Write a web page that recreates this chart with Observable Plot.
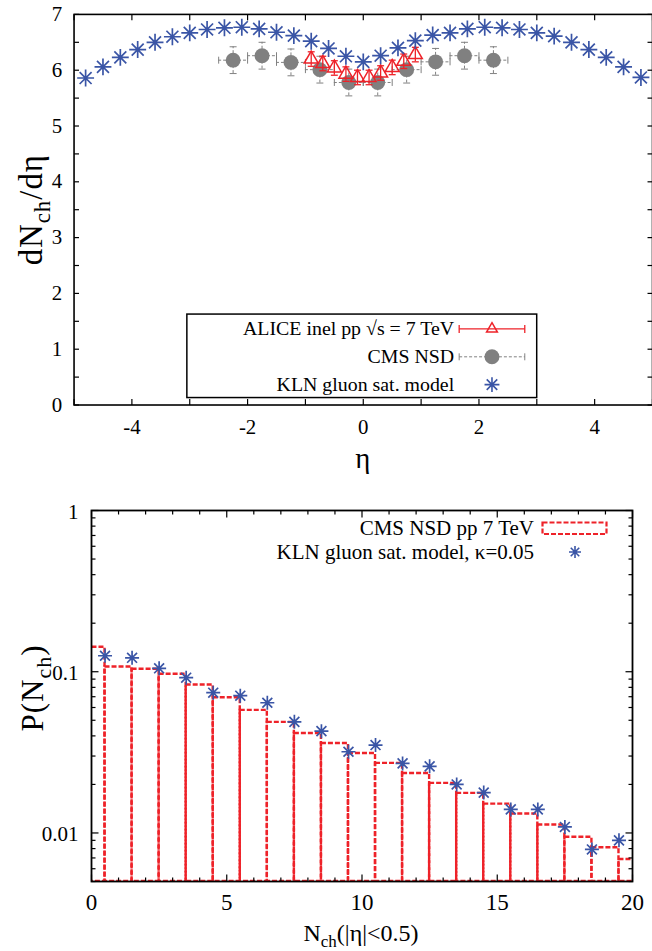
<!DOCTYPE html>
<html>
<head>
<meta charset="utf-8">
<script src="https://cdn.jsdelivr.net/npm/d3@7"></script>
<script src="https://cdn.jsdelivr.net/npm/@observablehq/plot@0.6"></script>
<style>
  html, body { margin: 0; padding: 0; background: #fff; }
  #wrap { position: relative; width: 652px; height: 951px; overflow: hidden; background: #fff;
          font-family: 'Liberation Serif', 'Times New Roman', serif; }
  #wrap svg { position: absolute; left: 0; font-family: 'Liberation Serif', 'Times New Roman', serif !important; }
  #wrap svg text, #wrap svg tspan { font-family: 'Liberation Serif', 'Times New Roman', serif !important; }
</style>
</head>
<body>
<div id="wrap"></div>
<script>
// ---------------- DATA ----------------
// Top panel: dNch/deta vs eta
const etaKLN = [-4.8,-4.5,-4.2,-3.9,-3.6,-3.3,-3.0,-2.7,-2.4,-2.1,-1.8,-1.5,-1.2,-0.9,-0.6,-0.3,0,
                0.3,0.6,0.9,1.2,1.5,1.8,2.1,2.4,2.7,3.0,3.3,3.6,3.9,4.2,4.5,4.8];
const dndetaKLN = [5.86,6.06,6.23,6.37,6.50,6.60,6.67,6.73,6.76,6.77,6.74,6.68,6.62,6.52,6.39,6.25,6.15,
                   6.26,6.40,6.53,6.63,6.67,6.74,6.77,6.76,6.73,6.67,6.61,6.50,6.37,6.23,6.06,5.87];

const etaCMS = [-2.25,-1.75,-1.25,-0.75,-0.25,0.25,0.75,1.25,1.75,2.25];
const dndetaCMS = [6.18,6.26,6.14,6.01,5.78,5.78,6.01,6.15,6.26,6.18];
const etaErrCMS = [0.25,0.25,0.25,0.25,0.25,0.25,0.25,0.25,0.25,0.25];
const errCMS = [0.24,0.24,0.24,0.24,0.24,0.24,0.24,0.24,0.24,0.24];

const etaALICE = [-0.9,-0.7,-0.5,-0.3,-0.1,0.1,0.3,0.5,0.7,0.9];
const dndetaALICE = [6.20,6.12,6.04,5.93,5.87,5.87,5.95,6.05,6.16,6.28];
const errALICE = [0.13,0.13,0.13,0.13,0.13,0.13,0.13,0.13,0.13,0.13];

const etaTickLabels = [-4,-2,0,2,4];
const etaTicks = [-5,-4,-3,-2,-1,0,1,2,3,4,5];
const dnTickLabels = [0,1,2,3,4,5,6,7];
const dnTicks = [0,0.5,1,1.5,2,2.5,3,3.5,4,4.5,5,5.5,6,6.5,7];
const legendTop = ["ALICE inel pp \u221As = 7 TeV", "CMS NSD", "KLN gluon sat. model"];

// Bottom panel: P(Nch)
const nchCMS = [0,1,2,3,4,5,6,7,8,9,10,11,12,13,14,15,16,17,18,19,20];
const pCMS = [0.142,0.107,0.1035,0.0964,0.0827,0.069,0.0576,0.0485,0.0414,0.0359,0.0311,
              0.0270,0.0234,0.0203,0.0176,0.0151,0.0131,0.0112,0.0094,0.0081,0.00684];
const nchKLN = [0.5,1.5,2.5,3.5,4.5,5.5,6.5,7.5,8.5,9.5,10.5,11.5,12.5,13.5,14.5,15.5,16.5,17.5,18.5,19.5];
const pKLN = [0.1256,0.122,0.105,0.0918,0.0741,0.071,0.0642,0.0489,0.0428,0.0319,0.0351,
              0.0270,0.0259,0.0200,0.0178,0.0140,0.0140,0.0109,0.0079,0.0090];

const nchTickLabels = [0,5,10,15,20];
const nchTicks = [0,1,2,3,4,5,6,7,8,9,10,11,12,13,14,15,16,17,18,19,20];
const pTickLabels = [1,0.1,0.01];
const pTickLabelText = ["1","0.1","0.01"];
const pMinorTicks = [0.005,0.006,0.007,0.008,0.009,0.02,0.03,0.04,0.05,0.06,0.07,0.08,0.09,
                     0.2,0.3,0.4,0.5,0.6,0.7,0.8,0.9];
const legendBottom = ["CMS NSD pp 7 TeV", "KLN gluon sat. model, \u03BA=0.05"];

// ---------------- STYLE ----------------
const serif = "Liberation Serif";
const red = "#ee2229", blue = "#3a55a6", gray = "#808080";

function seg(x1, y1, x2, y2) {
  return { draw(ctx, size) { const r = Math.sqrt(size / Math.PI);
    ctx.moveTo(x1 * r, y1 * r); ctx.lineTo(x2 * r, y2 * r); } };
}
const tickUp = seg(0,0,0,-1), tickDown = seg(0,0,0,1), tickRight = seg(0,0,1,0), tickLeft = seg(0,0,-1,0);
const hcap = seg(-1,0,1,0), vcap = seg(0,-1,0,1);
const asterisk = { draw(ctx, size) { const r = Math.sqrt(size / Math.PI), d = r * Math.SQRT1_2;
  ctx.moveTo(0,-r); ctx.lineTo(0,r); ctx.moveTo(-r,0); ctx.lineTo(r,0);
  ctx.moveTo(-d,-d); ctx.lineTo(d,d); ctx.moveTo(-d,d); ctx.lineTo(d,-d); } };

const wrap = document.getElementById("wrap");

// ---------------- TOP PANEL ----------------
const klnPts = etaKLN.map((x, i) => ({x, y: dndetaKLN[i]}));
const cmsPts = etaCMS.map((x, i) => ({x, y: dndetaCMS[i], ex: etaErrCMS[i], ey: errCMS[i]}));
const alicePts = etaALICE.map((x, i) => ({x, y: dndetaALICE[i], ey: errALICE[i]}));
const dash = "3,2";

const topSvg = Plot.plot({
  width: 656, height: 480,
  marginLeft: 74, marginRight: 0, marginTop: 14, marginBottom: 73,
  style: {fontFamily: serif, background: "white", overflow: "visible"},
  x: {domain: [-5, 5], axis: null},
  y: {domain: [0, 7], axis: null},
  marks: [
    Plot.ruleY(cmsPts, {y: "y", x1: d => d.x - d.ex, x2: d => d.x + d.ex, stroke: gray, strokeWidth: 1, strokeDasharray: dash}),
    Plot.ruleX(cmsPts, {x: "x", y1: d => d.y - d.ey, y2: d => d.y + d.ey, stroke: gray, strokeWidth: 1, strokeDasharray: dash}),
    Plot.dot(cmsPts, {x: d => d.x - d.ex, y: "y", symbol: vcap, r: 3.5, stroke: gray, strokeWidth: 1}),
    Plot.dot(cmsPts, {x: d => d.x + d.ex, y: "y", symbol: vcap, r: 3.5, stroke: gray, strokeWidth: 1}),
    Plot.dot(cmsPts, {x: "x", y: d => d.y - d.ey, symbol: hcap, r: 3.5, stroke: gray, strokeWidth: 1}),
    Plot.dot(cmsPts, {x: "x", y: d => d.y + d.ey, symbol: hcap, r: 3.5, stroke: gray, strokeWidth: 1}),
    Plot.dot(cmsPts, {x: "x", y: "y", symbol: "circle", r: 7.5, fill: gray, stroke: "none"}),
    Plot.ruleX(alicePts, {x: "x", y1: d => d.y - d.ey, y2: d => d.y + d.ey, stroke: red, strokeWidth: 1.3}),
    Plot.dot(alicePts, {x: "x", y: d => d.y - d.ey, symbol: hcap, r: 3.5, stroke: red, strokeWidth: 1.3}),
    Plot.dot(alicePts, {x: "x", y: d => d.y + d.ey, symbol: hcap, r: 3.5, stroke: red, strokeWidth: 1.3}),
    Plot.dot(alicePts, {x: "x", y: "y", symbol: "triangle", r: 5.2, fill: "none", stroke: red, strokeWidth: 1.5}),
    Plot.dot(klnPts, {x: "x", y: "y", symbol: asterisk, r: 8.5, stroke: blue, strokeWidth: 1.7}),
    Plot.dot(etaTicks, {x: d => d, y: 0, symbol: tickUp, r: 6, stroke: "black", strokeWidth: 1.2}),
    Plot.dot(etaTicks, {x: d => d, y: 7, symbol: tickDown, r: 6, stroke: "black", strokeWidth: 1.2}),
    Plot.dot(dnTicks, {x: -5, y: d => d, symbol: tickRight, r: 5, stroke: "black", strokeWidth: 1.2}),
    Plot.dot(dnTicks, {x: 5, y: d => d, symbol: tickLeft, r: 5, stroke: "black", strokeWidth: 1.2}),
    Plot.frame({stroke: "black", strokeWidth: 1.6}),
    Plot.text(etaTickLabels, {x: d => d, y: 0, text: d => String(d), dy: 22, fontSize: 21, fontFamily: serif, fill: "black"}),
    Plot.text(dnTickLabels, {x: -5, y: d => d, text: d => String(d), dx: -12, textAnchor: "end", fontSize: 21, fontFamily: serif, fill: "black"})
  ]
});
topSvg.style.top = "0px";
wrap.appendChild(topSvg);

{
  const s = d3.select(topSvg);
  const g = s.append("g").attr("font-family", serif).attr("fill", "black");
  const yt = g.append("text").attr("transform", "translate(42,211) rotate(-90)")
    .attr("text-anchor", "middle").attr("font-size", 33).attr("letter-spacing", 1);
  yt.append("tspan").text("dN");
  yt.append("tspan").attr("dy", 8).attr("font-size", 23).text("ch");
  yt.append("tspan").attr("dy", -8).text("/d\u03B7");
  g.append("text").attr("x", 365).attr("y", 471).attr("text-anchor", "middle").attr("font-size", 29).text("\u03B7");
  g.append("rect").attr("x", 188).attr("y", 316).attr("width", 352).attr("height", 84)
    .attr("fill", "none").attr("stroke", "black").attr("stroke-width", 1.5);
  const ly = [331, 359, 387];
  legendTop.forEach((t, i) => {
    g.append("text").attr("x", 457).attr("y", ly[i] + 6.5).attr("text-anchor", "end")
      .attr("font-size", 20).text(t);
  });
  const a = g.append("g").attr("stroke", red).attr("fill", "none").attr("stroke-width", 1.3);
  a.append("line").attr("x1", 462).attr("x2", 528).attr("y1", ly[0]).attr("y2", ly[0]);
  a.append("line").attr("x1", 462).attr("x2", 462).attr("y1", ly[0] - 4).attr("y2", ly[0] + 4);
  a.append("line").attr("x1", 528).attr("x2", 528).attr("y1", ly[0] - 4).attr("y2", ly[0] + 4);
  a.append("path").attr("transform", `translate(495,${ly[0]})`).attr("stroke-width", 1.5)
    .attr("d", d3.symbol(d3.symbolTriangle2, 5.2 * 5.2 * Math.PI)());
  const c = g.append("g").attr("stroke", gray).attr("fill", "none").attr("stroke-width", 1);
  c.append("line").attr("x1", 462).attr("x2", 528).attr("y1", ly[1]).attr("y2", ly[1]).attr("stroke-dasharray", dash);
  c.append("line").attr("x1", 462).attr("x2", 462).attr("y1", ly[1] - 3.5).attr("y2", ly[1] + 3.5);
  c.append("line").attr("x1", 528).attr("x2", 528).attr("y1", ly[1] - 3.5).attr("y2", ly[1] + 3.5);
  g.append("circle").attr("cx", 495).attr("cy", ly[1]).attr("r", 7.5).attr("fill", gray);
  g.append("path").attr("transform", `translate(495,${ly[2]})`).attr("fill", "none")
    .attr("stroke", blue).attr("stroke-width", 1.6)
    .attr("d", d3.symbol(asterisk, 7.5 * 7.5 * Math.PI)());
}

// ---------------- BOTTOM PANEL ----------------
const hist = nchCMS.map((n, i) => ({n, p: pCMS[i]}));
const klnP = nchKLN.map((n, i) => ({n, p: pKLN[i]}));
const hdash = "5,2";
const major5 = d => d % 5 === 0;
const minor5 = d => d % 5 !== 0;

const bottomSvg = Plot.plot({
  width: 652, height: 471,
  marginLeft: 91, marginRight: 20, marginTop: 30, marginBottom: 70,
  style: {fontFamily: serif, background: "white", overflow: "visible"},
  x: {domain: [0, 20], axis: null},
  y: {type: "log", domain: [0.005, 1], axis: null},
  marks: [
    Plot.rect(hist, {x1: d => d.n - 0.5, x2: d => d.n + 0.5, y1: 0.005, y2: "p",
      fill: "none", stroke: red, strokeWidth: 2.4, strokeDasharray: hdash, clip: true}),
    Plot.dot(klnP, {x: "n", y: "p", symbol: asterisk, r: 7, stroke: blue, strokeWidth: 1.7}),
    Plot.dot(nchTicks, {filter: major5, x: d => d, y: 0.005, symbol: tickUp, r: 7, stroke: "black", strokeWidth: 1.2}),
    Plot.dot(nchTicks, {filter: minor5, x: d => d, y: 0.005, symbol: tickUp, r: 4, stroke: "black", strokeWidth: 1.2}),
    Plot.dot(nchTicks, {filter: major5, x: d => d, y: 1, symbol: tickDown, r: 7, stroke: "black", strokeWidth: 1.2}),
    Plot.dot(nchTicks, {filter: minor5, x: d => d, y: 1, symbol: tickDown, r: 4, stroke: "black", strokeWidth: 1.2}),
    Plot.dot(pTickLabels, {x: 0, y: d => d, symbol: tickRight, r: 7, stroke: "black", strokeWidth: 1.2}),
    Plot.dot(pTickLabels, {x: 20, y: d => d, symbol: tickLeft, r: 7, stroke: "black", strokeWidth: 1.2}),
    Plot.dot(pMinorTicks, {x: 0, y: d => d, symbol: tickRight, r: 4, stroke: "black", strokeWidth: 1.2}),
    Plot.dot(pMinorTicks, {x: 20, y: d => d, symbol: tickLeft, r: 4, stroke: "black", strokeWidth: 1.2}),
    Plot.frame({stroke: "black", strokeWidth: 1.8}),
    Plot.text(nchTickLabels, {x: d => d, y: 0.005, text: d => String(d), dy: 21.5, fontSize: 23, fontFamily: serif, fill: "black"}),
    Plot.text(pTickLabels, {x: 0, y: d => d, text: (d, i) => pTickLabelText[i], dx: -13, dy: 1.5, textAnchor: "end", fontSize: 21, fontFamily: serif, fill: "black"})
  ]
});
bottomSvg.style.top = "480px";
wrap.appendChild(bottomSvg);

{
  const s = d3.select(bottomSvg);
  const g = s.append("g").attr("font-family", serif).attr("fill", "black");
  const yt = g.append("text").attr("transform", "translate(43,208) rotate(-90)")
    .attr("text-anchor", "middle").attr("font-size", 31).attr("letter-spacing", 1);
  yt.append("tspan").text("P(N");
  yt.append("tspan").attr("dy", 8).attr("font-size", 22).text("ch");
  yt.append("tspan").attr("dy", -8).text(")");
  const xt = g.append("text").attr("x", 361).attr("y", 461).attr("text-anchor", "middle").attr("font-size", 24);
  xt.append("tspan").text("N");
  xt.append("tspan").attr("dy", 6).attr("font-size", 17).text("ch");
  xt.append("tspan").attr("dy", -6).text("(|\u03B7|<0.5)");
  const ly = [528.5 - 480, 552 - 480];
  legendBottom.forEach((t, i) => {
    g.append("text").attr("x", 534).attr("y", ly[i] + 6.6).attr("text-anchor", "end")
      .attr("font-size", 21).text(t);
  });
  g.append("rect").attr("x", 542.5).attr("y", ly[0] - 6).attr("width", 64).attr("height", 11.5)
    .attr("fill", "none").attr("stroke", red).attr("stroke-width", 2.2).attr("stroke-dasharray", hdash);
  g.append("path").attr("transform", `translate(575,${ly[1]})`).attr("fill", "none")
    .attr("stroke", blue).attr("stroke-width", 1.6)
    .attr("d", d3.symbol(asterisk, 6 * 6 * Math.PI)());
}
</script>
</body>
</html>
